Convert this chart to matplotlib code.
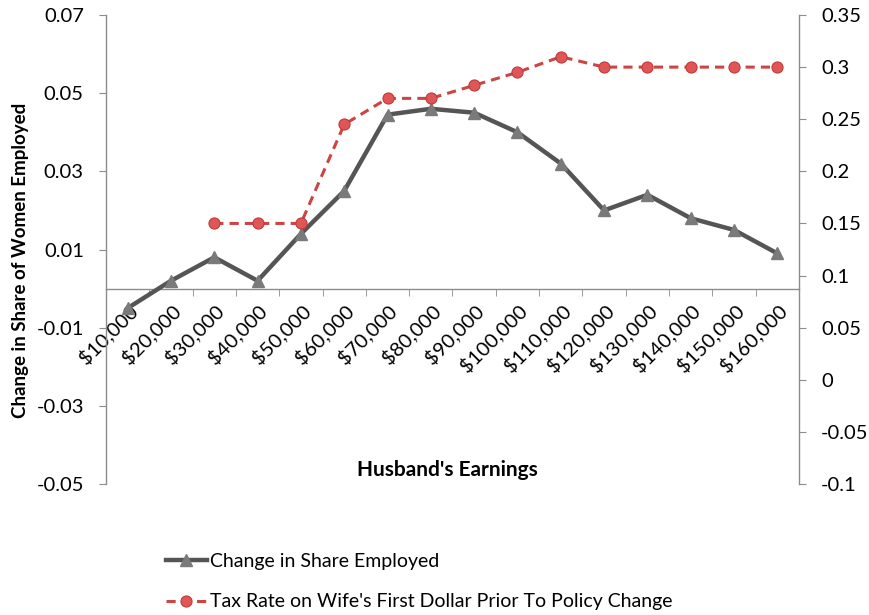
import numpy as np
import matplotlib.pyplot as plt
from matplotlib.ticker import FixedLocator, NullFormatter

plt.rcParams['font.family'] = ['Lato', 'DejaVu Sans']

categories = ['$10,000', '$20,000', '$30,000', '$40,000', '$50,000', '$60,000',
              '$70,000', '$80,000', '$90,000', '$100,000', '$110,000', '$120,000',
              '$130,000', '$140,000', '$150,000', '$160,000']
share_employed = [-0.005, 0.002, 0.008, 0.002, 0.014, 0.025, 0.0445, 0.046,
                  0.045, 0.040, 0.032, 0.020, 0.024, 0.018, 0.015, 0.009]
tax_rate = [np.nan, np.nan, 0.15, 0.15, 0.15, 0.245, 0.27, 0.27, 0.2825,
            0.295, 0.31, 0.30, 0.30, 0.30, 0.30, 0.30]
left_ticks = [-0.05, -0.03, -0.01, 0.01, 0.03, 0.05, 0.07]
right_ticks = [-0.1, -0.05, 0, 0.05, 0.1, 0.15, 0.2, 0.25, 0.3, 0.35]
right_labels = ['-0.1', '-0.05', '0', '0.05', '0.1', '0.15', '0.2', '0.25', '0.3', '0.35']

fig = plt.figure(figsize=(8.7, 6.15), dpi=100)
ax = fig.add_axes([106/870, 1-484/615, (799-106)/870, (484-15)/615])
ax2 = ax.twinx()

x = np.arange(len(categories))
axis_col = '#8c8c8c'

l1, = ax.plot(x, share_employed, color='#555555', lw=3.2, marker='^', ms=8,
              markerfacecolor='#7a7a7a', markeredgecolor='#7a7a7a', zorder=3,
              solid_joinstyle='miter')
l2, = ax2.plot(x, tax_rate, color='#cc4444', lw=2.2, ls=(0, (3, 2)), marker='o', ms=8,
               markerfacecolor='#e05555', markeredgecolor='#c03c3c', mew=0.8, zorder=4)

ax.set_xlim(-0.5, len(categories) - 0.5)
ax.set_ylim(-0.05, 0.07)
ax2.set_ylim(-0.1, 0.35)

ax.set_yticks(left_ticks)
ax.set_yticklabels([f'{v:.2f}' for v in left_ticks])
ax2.set_yticks(right_ticks)
ax2.set_yticklabels(right_labels)

for a in (ax, ax2):
    a.spines['top'].set_visible(False)
    for s in a.spines.values():
        s.set_color(axis_col)
        s.set_linewidth(1.0)
ax2.spines['bottom'].set_visible(False)
ax2.spines['left'].set_visible(False)
ax.spines['right'].set_visible(False)
ax.spines['bottom'].set_position(('data', 0))

ax.tick_params(axis='y', direction='out', length=5, color=axis_col, labelsize=14.5, pad=11)
ax2.tick_params(axis='y', direction='out', length=5, color=axis_col, labelsize=14.5, pad=11)

ax.set_xticks(x)
ax.set_xticklabels(categories, rotation=45, ha='right', va='top', rotation_mode='anchor',
                   fontsize=14.5)
ax.tick_params(axis='x', which='major', length=0, pad=9)
ax.xaxis.set_minor_locator(FixedLocator(np.arange(0.5, len(categories) - 0.5, 1)))
ax.xaxis.set_minor_formatter(NullFormatter())
ax.tick_params(axis='x', which='minor', direction='out', length=5, color=axis_col)

fig.text(21/870, 1-260/615, 'Change in Share of Women Employed', rotation=90,
         ha='center', va='center', fontsize=13.5, fontweight='bold')
fig.text(447/870, 1-470/615, "Husband's Earnings", ha='center', va='center',
         fontsize=15, fontweight='bold')

fig.legend([l1, l2], ['Change in Share Employed',
                      "Tax Rate on Wife's First Dollar Prior To Policy Change"],
           loc='upper left', bbox_to_anchor=(166/870, 1-553/615), frameon=False,
           fontsize=14, handlelength=2.1, handletextpad=0.15, labelspacing=1.2,
           borderaxespad=0, borderpad=0)

fig.savefig('out.png', dpi=100)
